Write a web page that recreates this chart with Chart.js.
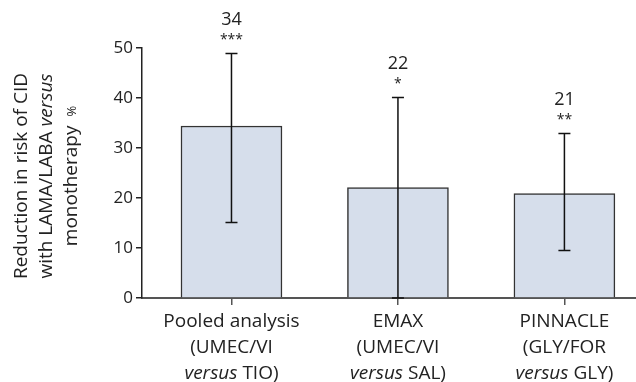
<!DOCTYPE html>
<html lang="en">
<head>
<meta charset="UTF-8">
<title>Reduction in risk of CID</title>
<script src="https://cdn.jsdelivr.net/npm/chart.js"></script>
<style>
  html, body { margin: 0; padding: 0; background: #fff; }
  canvas { display: block; }
</style>
</head>
<body>
<canvas id="cidChart" width="636" height="382"></canvas>
<script>
const studies = ['Pooled analysis', 'EMAX', 'PINNACLE'];
const treatments = ['UMEC/VI', 'UMEC/VI', 'GLY/FOR'];
const comparators = ['TIO', 'SAL', 'GLY'];
const reduction = [34.4, 22.1, 20.9];
const ciLower = [15.1, 0, 9.5];
const ciUpper = [48.9, 40.1, 32.9];
const shownValues = ['34', '22', '21'];
const significance = ['***', '*', '**'];

const FAMILY = '"Open Sans", "Noto Sans", sans-serif';
const TEXT = '#222';

// draws a line made of several font runs, centred on cx
function drawParts(ctx, parts, cx, y) {
    let total = 0;
    parts.forEach(p => {
        ctx.font = p.font;
        p.w = ctx.measureText(p.text).width + (p.gap || 0);
        total += p.w;
    });
    let x = cx - total / 2;
    ctx.textAlign = 'left';
    parts.forEach(p => {
        ctx.font = p.font;
        ctx.fillText(p.text, x + (p.gap || 0), y);
        x += p.w;
    });
}

const extras = {
    id: 'extras',
    afterDatasetsDraw(chart) {
        const { ctx, scales: { x, y } } = chart;
        ctx.save();
        ctx.strokeStyle = '#111';
        ctx.lineWidth = 1.5;
        reduction.forEach((v, i) => {
            const px = x.getPixelForValue(i);
            const top = y.getPixelForValue(ciUpper[i]);
            const bot = y.getPixelForValue(ciLower[i]);
            ctx.beginPath();
            ctx.moveTo(px, top); ctx.lineTo(px, bot);
            ctx.moveTo(px - 6, top); ctx.lineTo(px + 6, top);
            ctx.moveTo(px - 6, bot); ctx.lineTo(px + 6, bot);
            ctx.stroke();
        });
        ctx.restore();
    },
    afterDraw(chart) {
        const { ctx, scales: { x, y } } = chart;
        const norm = '19px ' + FAMILY;
        const ital = 'italic 19px ' + FAMILY;
        ctx.save();
        ctx.fillStyle = TEXT;
        ctx.textBaseline = 'middle';

        // category labels
        studies.forEach((s, i) => {
            const px = x.getPixelForValue(i);
            drawParts(ctx, [{ text: s, font: norm }], px, 322);
            drawParts(ctx, [{ text: '(' + treatments[i], font: norm }], px, 348);
            drawParts(ctx, [{ text: 'versus', font: ital }, { text: ' ' + comparators[i] + ')', font: norm }], px, 374);
        });

        // values and significance above the error bars
        shownValues.forEach((t, i) => {
            const px = x.getPixelForValue(i);
            const top = y.getPixelForValue(ciUpper[i]);
            drawParts(ctx, [{ text: t, font: '18px ' + FAMILY }], px, top - 34);
            drawParts(ctx, [{ text: significance[i], font: '14px ' + FAMILY }], px, top - 13);
        });

        // y axis title
        ctx.translate(0, 176);
        ctx.rotate(-Math.PI / 2);
        drawParts(ctx, [{ text: 'Reduction in risk of CID', font: norm }], 0, 22);
        drawParts(ctx, [{ text: 'with LAMA/LABA ', font: norm }, { text: 'versus', font: ital }], 0, 47);
        drawParts(ctx, [{ text: 'monotherapy', font: norm }, { text: '%', font: '13px ' + FAMILY, gap: 9 }], 0, 72);
        ctx.restore();
    }
};

new Chart(document.getElementById('cidChart'), {
    type: 'bar',
    data: {
        datasets: [{
            data: reduction.map((v, i) => ({ x: i, y: v })),
            backgroundColor: '#d6deeb',
            borderColor: '#333',
            borderWidth: 1.5,
            barThickness: 101
        }]
    },
    options: {
        responsive: false,
        animation: false,
        layout: { padding: { top: 48, left: 0, right: 0, bottom: 0 } },
        plugins: { legend: { display: false }, tooltip: { enabled: false } },
        scales: {
            x: {
                type: 'linear',
                offset: false,
                min: -0.5375,
                max: 2.43,
                grid: { offset: false, drawOnChartArea: false, tickLength: 7, color: '#555', lineWidth: 1.5 },
                border: { color: '#555', width: 2 },
                ticks: { display: false },
                afterBuildTicks: s => { s.ticks = studies.map((_, i) => ({ value: i })); },
                afterFit: s => { s.height = 84; }
            },
            y: {
                min: 0,
                max: 50,
                grid: { drawOnChartArea: false, tickLength: 6, color: '#222', lineWidth: 1.5 },
                border: { color: '#222', width: 1.5 },
                ticks: { stepSize: 10, color: TEXT, padding: 3, font: { size: 17, family: FAMILY } },
                afterFit: s => { s.width = 142; }
            }
        }
    },
    plugins: [extras]
});
</script>
</body>
</html>
